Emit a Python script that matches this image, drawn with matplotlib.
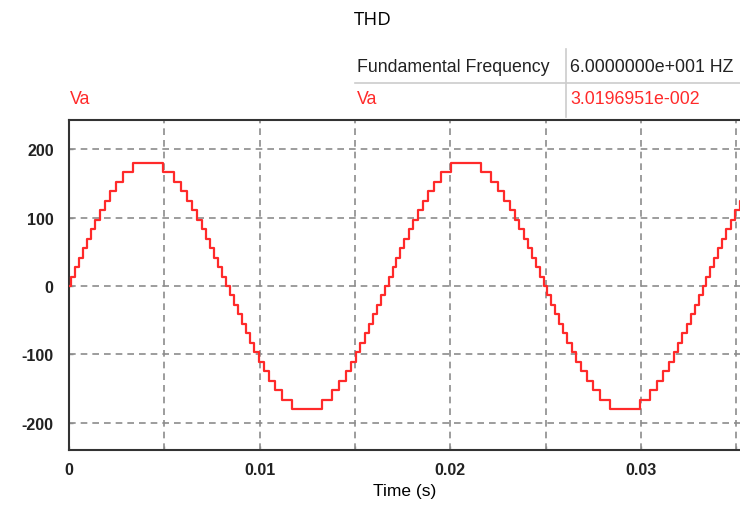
import numpy as np
import matplotlib
matplotlib.use("Agg")
import matplotlib.pyplot as plt

# staircase output Va: switching times (ms) in the first quarter cycle
rise_times_ms = [0.10, 0.31, 0.51, 0.72, 0.93, 1.15, 1.38, 1.62, 1.88, 2.16, 2.48, 2.85, 3.38]
step_volts = 13.85          # height of one level, 13 levels -> ~180 V peak
f0 = 60.0                   # fundamental frequency (Hz)
t_end = 0.0355

xtick_labels = ["0", "", "0.01", "", "0.02", "", "0.03", ""]
yticks = [-200, -100, 0, 100, 200]
thd_text = "3.0196951e-002"
freq_text = "6.0000000e+001 HZ"

red = "#ff2a2a"
grid_col = "#8c8c8c"

# build the edge list of the stepped wave
half = 0.5 / f0
rise = np.array(rise_times_ms) / 1000.0
lev = np.arange(1, len(rise) + 1) * step_volts
t_pts = [0.0]
v_pts = [0.0]
n = 0
while n * half < t_end:
    sign = 1 if n % 2 == 0 else -1
    t0 = n * half
    for tk, lk in zip(rise, lev):
        t_pts.append(t0 + tk)
        v_pts.append(sign * lk)
    for tk, lk in zip(rise[::-1], lev[::-1]):
        t_pts.append(t0 + half - tk)
        v_pts.append(sign * (lk - step_volts))
    n += 1
t_pts = np.array(t_pts)
v_pts = np.array(v_pts)

fig = plt.figure(figsize=(7.4, 5.06), dpi=100)
ax = fig.add_axes([69 / 740, 1 - 451 / 506, 1 - 69 / 740, 330 / 506])

ax.step(t_pts, v_pts, where="post", color=red, lw=1.6, zorder=3)

ax.set_xlim(0, 0.0352)
ax.set_ylim(-240, 243)
ax.set_xticks(np.arange(0, 0.0351, 0.005))
ax.set_xticklabels(xtick_labels)
ax.set_yticks(yticks)
ax.set_yticklabels([str(v) for v in yticks])
ax.grid(True, color=grid_col, ls=(0, (4, 3)), lw=1.2)
ax.tick_params(direction="in", length=3, width=1, color=grid_col,
               labelsize=11.5, labelcolor="#222222")
ax.tick_params(axis="x", pad=9)
ax.tick_params(axis="y", pad=11)
for lab in ax.get_xticklabels() + ax.get_yticklabels():
    lab.set_fontweight("bold")
    lab.set_fontfamily("Liberation Sans")
ax.spines["right"].set_visible(False)
for s in ["left", "bottom", "top"]:
    ax.spines[s].set_color("#333333")
    ax.spines[s].set_linewidth(1.5)
ax.set_xlabel("Time (s)", fontsize=12.5, fontfamily="Liberation Sans", labelpad=4)

# header
fig.text(373 / 740, 1 - 20 / 506, "THD", ha="center", va="center", fontsize=13.5, fontfamily="Open Sans")
fig.text(357 / 740, 1 - 68 / 506, "Fundamental Frequency", ha="left", va="center",
         fontsize=12.8, fontfamily="Liberation Sans", color="#222222")
fig.text(570 / 740, 1 - 68 / 506, freq_text, ha="left", va="center",
         fontsize=12.8, fontfamily="Liberation Sans", color="#222222")
fig.text(70 / 740, 1 - 100 / 506, "Va", ha="left", va="center", fontsize=12.8,
         fontfamily="Liberation Sans", color=red)
fig.text(357 / 740, 1 - 100 / 506, "Va", ha="left", va="center", fontsize=12.8,
         fontfamily="Liberation Sans", color=red)
fig.text(570 / 740, 1 - 100 / 506, thd_text, ha="left", va="center", fontsize=12.8,
         fontfamily="Liberation Sans", color=red)
fig.add_artist(plt.Line2D([355 / 740, 1], [1 - 84 / 506] * 2, color="#cccccc", lw=1.2))
fig.add_artist(plt.Line2D([566 / 740] * 2, [1 - 50 / 506, 1 - 118 / 506], color="#cccccc", lw=1.2))

fig.savefig("out.png", dpi=100)
